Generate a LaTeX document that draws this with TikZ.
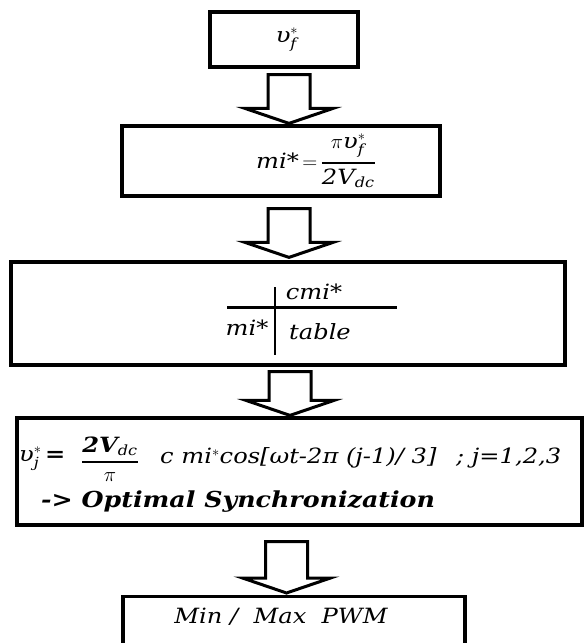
\documentclass[tikz,border=0pt]{standalone}
\usepackage{amsmath}
\usepackage{fontspec}
\setmainfont{DejaVu Serif}[FakeStretch=1.15]
\usetikzlibrary{calc}
\newcommand\ups{\mbox{\itshape υ}}
\newcommand\tsub[1]{\mbox{\itshape\fontsize{14}{16}\selectfont #1}}
\newcommand\boldfrac[2]{\genfrac{}{}{1.6pt}{0}{#1}{#2}}
\tikzset{
  box/.style={draw, line width=3.2pt, inner sep=0pt},
  txt/.style={inner sep=0pt, font=\itshape\fontsize{21}{25}\selectfont},
  fat/.style={draw, line width=3pt, line join=miter,
    to path={let \p1=(\tikztostart), \p2=(\tikztotarget) in
      (\x1-21pt,\y1) -- (\x1-21pt,\y2+15pt) -- (\x1-44pt,\y2+15pt) -- (\x1,\y2)
      -- (\x1+44pt,\y2+15pt) -- (\x1+21pt,\y2+15pt) -- (\x1+21pt,\y1) -- cycle}},
}
\begin{document}
\begin{tikzpicture}[x=1pt, y=-1pt]
\useasboundingbox (0,0) rectangle (584,643);

% process boxes
\node[box, minimum width=148, minimum height=55] (b1) at (284,39.5) {};
\node[box, minimum width=318, minimum height=70] (b2) at (281,161) {};
\node[box, minimum width=554, minimum height=103] (b3) at (288,313.5) {};
\node[box, minimum width=565, minimum height=107] (b4) at (299.5,471.5) {};
\node[box, minimum width=342, minimum height=80, anchor=north] (b5) at (294,595) {};

% box texts
\node[txt] (t1) at (287,40) {$\ups_{\tsub{f}}^{*}$};
\node[txt] (t2) at (316,161) {mi*$\,=\,$$\boldfrac{\pi\ups_{\tsub{f}}^{*}}{\mbox{\itshape 2V}_{\tsub{dc}}}$};

\node[txt] (tc) at (314,292) {cmi*};
\node[txt] (tm) at (247,328) {mi*};
\node[txt] (tt) at (320,332) {table};
\coordinate (hl) at (227,307);
\coordinate (hr) at (397,307);
\coordinate (vt) at (275,287);
\coordinate (vb) at (275,355);
\draw[line width=3pt] (hl) -- (hr);
\draw[line width=2.5pt] (vt) -- (vb);

\node[txt, anchor=west] (e1) at (19,459) {$\ups_{\tsub{j}}^{*}$\,\textbf{=}};
\node[txt] (e2) at (110,459) {$\boldfrac{\mbox{\bfseries\itshape 2V}_{\tsub{dc}}}{\pi}$};
\node[txt, anchor=west] (e3) at (160,458) {c mi$^*$cos[ωt-2π (j-1)/ 3]};
\node[txt, anchor=west] (e4) at (456,458) {; j=1,2,3};
\node[txt, anchor=west, font=\bfseries\itshape\fontsize{22}{26}\selectfont] (e5) at (41,502) {-> Optimal Synchronization};

\node[txt] (t5) at (281,617) {Min /\ \ Max\ \ PWM};

% block arrows between the boxes
\draw[fat] ($(b1.south)+(5,6)$) to ($(b2.north)+(0,-1)$);
\draw[fat] ($(b2.south)+(8,11)$) to ($(b3.north)+(0,-3)$);
\draw[fat] ($(b3.south)+(2,5)$) to ($(b4.north)+(0,-1)$);
\draw[fat] ($(b4.south)+(-13,15)$) to ($(b5.north)+(0,-2)$);
\end{tikzpicture}
\end{document}
